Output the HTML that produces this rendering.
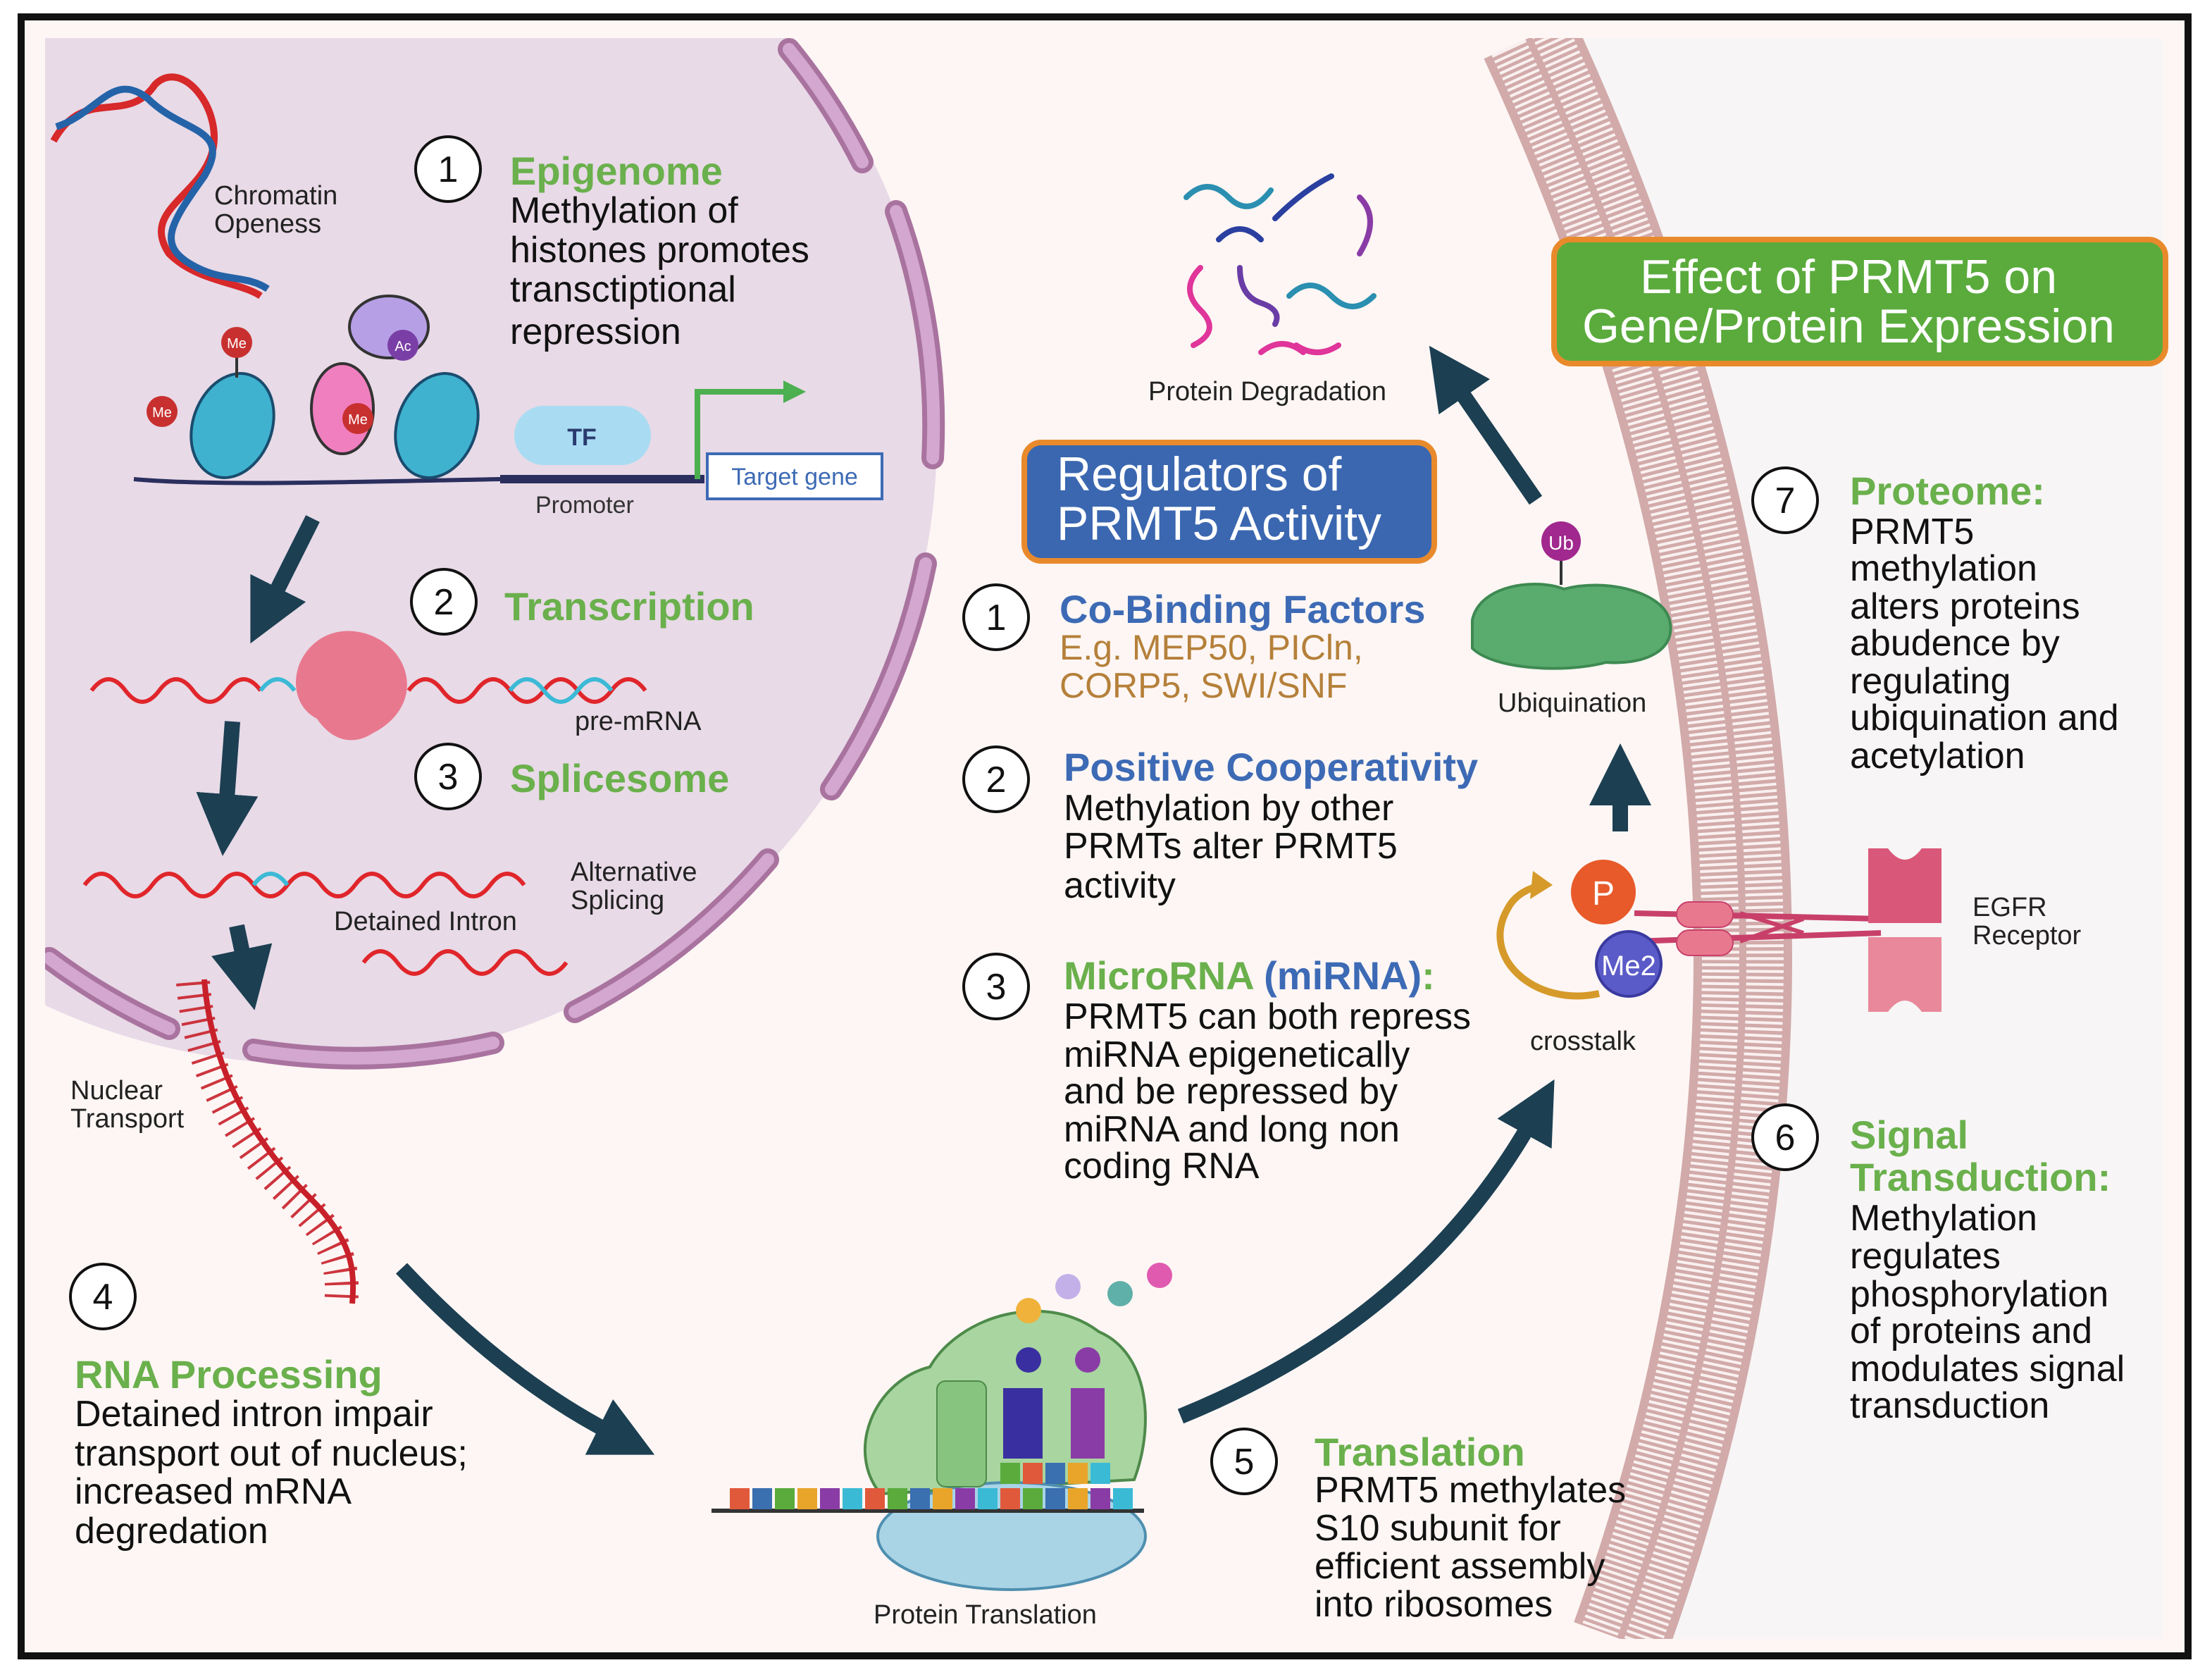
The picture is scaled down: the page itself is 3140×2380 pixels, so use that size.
<!DOCTYPE html>
<html><head><meta charset="utf-8"><style>
html,body{margin:0;padding:0;background:#fff;}
svg{display:block;}
text{font-family:"Liberation Sans",sans-serif;}
</style></head><body>
<svg width="3140" height="2380" viewBox="0 0 1570 1190" xmlns="http://www.w3.org/2000/svg">
<defs>
<marker id="ah" markerWidth="4" markerHeight="4" refX="1.5" refY="2" orient="auto" markerUnits="strokeWidth"><path d="M0,0 L4,2 L0,4 z" fill="#1c3f52"/></marker>
<clipPath id="inner"><rect x="32" y="27" width="1503" height="1136"/></clipPath>
</defs>
<rect x="0" y="0" width="1570" height="1190" fill="#fff"/>
<rect x="15" y="12" width="1538" height="1163" fill="#fdf6f4" stroke="#111" stroke-width="5"/>
<g clip-path="url(#inner)">
<path d="M1085,27 Q1352,605 1150,1163 L1540,1163 L1540,27 Z" fill="#f7f5f6"/>
<circle cx="220" cy="310" r="445" fill="#e8dae7"/>
<g fill="none" stroke="#a9739f" stroke-width="16" stroke-linecap="round">
<path d="M560,35 A445,445 0 0 1 612,115"/>
<path d="M636,150 A445,445 0 0 1 662,325"/>
<path d="M657,400 A445,445 0 0 1 590,560"/>
<path d="M545,610 A445,445 0 0 1 408,718"/>
<path d="M350,740 A445,445 0 0 1 180,745"/>
<path d="M120,730 A445,445 0 0 1 35,680"/>
</g>
<g fill="none" stroke="#d3a7cf" stroke-width="9" stroke-linecap="round">
<path d="M560,35 A445,445 0 0 1 612,115"/>
<path d="M636,150 A445,445 0 0 1 662,325"/>
<path d="M657,400 A445,445 0 0 1 590,560"/>
<path d="M545,610 A445,445 0 0 1 408,718"/>
<path d="M350,740 A445,445 0 0 1 180,745"/>
<path d="M120,730 A445,445 0 0 1 35,680"/>
</g>
<path d="M1085,27 Q1352,605 1150,1163" fill="none" stroke="#d2aaaa" stroke-width="70"/>
<path d="M1085,27 Q1352,605 1150,1163" fill="none" stroke="#faf0f0" stroke-width="58" stroke-dasharray="2 2.5"/>
<path d="M1085,27 Q1352,605 1150,1163" fill="none" stroke="#d2aaaa" stroke-width="5"/>
</g>
<path d="M38,100 C60,60 90,90 110,60 C130,40 160,80 150,110 C140,140 100,150 120,180 C140,200 170,200 185,210" fill="none" stroke="#d7282a" stroke-width="5"/>
<path d="M40,90 C70,80 80,50 105,70 C130,95 165,90 145,125 C120,160 110,175 140,190 C160,200 175,195 190,205" fill="none" stroke="#2563a8" stroke-width="5"/>
<text x="152" y="145" font-size="19" fill="#222">Chromatin</text>
<text x="152" y="165" font-size="19" fill="#222">Openess</text>
<path d="M95,340 C150,345 250,342 355,340 L500,340" fill="none" stroke="#2a2f5e" stroke-width="3"/>
<line x1="355" y1="340" x2="500" y2="340" stroke="#2a2f5e" stroke-width="6"/>
<ellipse cx="243" cy="290" rx="22" ry="32" fill="#f07fbf" stroke="#333" stroke-width="2"/>
<ellipse cx="276" cy="232" rx="28" ry="22" fill="#b79fe6" stroke="#333" stroke-width="2"/>
<ellipse cx="165" cy="302" rx="28" ry="38" fill="#3fb2cf" stroke="#1a4c6e" stroke-width="2" transform="rotate(20 165 302)"/>
<ellipse cx="310" cy="302" rx="28" ry="38" fill="#3fb2cf" stroke="#1a4c6e" stroke-width="2" transform="rotate(20 310 302)"/>
<line x1="168" y1="245" x2="168" y2="268" stroke="#333" stroke-width="2"/>
<circle cx="168" cy="243" r="11" fill="#c8302f"/><text x="168" y="247" font-size="10" fill="#fff" text-anchor="middle">Me</text>
<circle cx="115" cy="292" r="11" fill="#c8302f"/><text x="115" y="296" font-size="10" fill="#fff" text-anchor="middle">Me</text>
<circle cx="254" cy="297" r="11" fill="#c8302f"/><text x="254" y="301" font-size="10" fill="#fff" text-anchor="middle">Me</text>
<circle cx="286" cy="245" r="11" fill="#7a3fa6"/><text x="286" y="249" font-size="10" fill="#fff" text-anchor="middle">Ac</text>
<rect x="365" y="288" width="97" height="42" rx="21" fill="#a9dcf3"/>
<text x="413" y="316" font-size="17" font-weight="bold" fill="#2a3a6e" text-anchor="middle">TF</text>
<text x="380" y="364" font-size="17" fill="#333">Promoter</text>
<path d="M495,340 L495,278 L560,278" fill="none" stroke="#4caf50" stroke-width="4"/>
<path d="M556,270 L572,278 L556,286 z" fill="#4caf50"/>
<rect x="502" y="322" width="124" height="32" fill="#fff" stroke="#3d6ab5" stroke-width="2"/>
<text x="564" y="344" font-size="17" fill="#3d6ab5" text-anchor="middle">Target gene</text>
<g fill="#fff" stroke="#111" stroke-width="2">
<circle cx="318" cy="120" r="23"/><circle cx="315" cy="427" r="23"/><circle cx="318" cy="551" r="23"/>
<circle cx="73" cy="920" r="23"/><circle cx="883" cy="1037" r="23"/><circle cx="707" cy="438" r="23"/>
<circle cx="707" cy="553" r="23"/><circle cx="707" cy="700" r="23"/><circle cx="1267" cy="355" r="23"/><circle cx="1267" cy="807" r="23"/>
</g>
<g font-size="26" fill="#111" text-anchor="middle">
<text x="318" y="129">1</text><text x="315" y="436">2</text><text x="318" y="560">3</text><text x="73" y="929">4</text>
<text x="883" y="1046">5</text><text x="707" y="447">1</text><text x="707" y="562">2</text><text x="707" y="709">3</text>
<text x="1267" y="364">7</text><text x="1267" y="816">6</text>
</g>
<text x="362" y="131" font-size="28" font-weight="bold" fill="#6ab04c">Epigenome</text>
<g font-size="26" fill="#111">
<text x="362" y="158">Methylation of</text><text x="362" y="186">histones promotes</text>
<text x="362" y="214">transctiptional</text><text x="362" y="244">repression</text>
</g>
<text x="358" y="440" font-size="28" font-weight="bold" fill="#6ab04c">Transcription</text>
<text x="362" y="562" font-size="28" font-weight="bold" fill="#6ab04c">Splicesome</text>
<path d="M65,490 q12,-16 24,0 t24,0 t24,0 t24,0 t24,0" fill="none" stroke="#e0262b" stroke-width="3"/>
<path d="M185,490 q12,-16 24,0" fill="none" stroke="#3bbad6" stroke-width="3"/>
<path d="M290,490 q12,-16 24,0 t24,0 t24,0 t24,0 t24,0 t24,0 t24,0" fill="none" stroke="#e0262b" stroke-width="3"/>
<path d="M362,490 q12,-16 24,0 t24,0 t24,0" fill="none" stroke="#3bbad6" stroke-width="3"/>
<path d="M225,455 C245,440 275,450 285,470 C295,490 285,510 265,520 C250,530 235,525 225,510 C205,500 205,470 225,455 z" fill="#e8788e"/>
<text x="408" y="518" font-size="19" fill="#222">pre-mRNA</text>
<path d="M60,628 q12,-16 24,0 t24,0 t24,0 t24,0 t24,0 t24,0 t24,0 t24,0 t24,0 t24,0 t24,0 t24,0 t24,0" fill="none" stroke="#e0262b" stroke-width="3"/>
<path d="M180,628 q12,-16 24,0" fill="none" stroke="#3bbad6" stroke-width="3"/>
<path d="M258,683 q12,-16 24,0 t24,0 t24,0 t24,0 t24,0 t24,0" fill="none" stroke="#e0262b" stroke-width="3"/>
<text x="405" y="625" font-size="19" fill="#222">Alternative</text>
<text x="405" y="645" font-size="19" fill="#222">Splicing</text>
<text x="237" y="660" font-size="19" fill="#222">Detained Intron</text>
<path d="M145,695 C150,760 180,810 220,850 C250,880 252,900 250,925" fill="none" stroke="#c8202a" stroke-width="4"/>
<path d="M145,695 C150,760 180,810 220,850 C250,880 252,900 250,925" fill="none" stroke="#c8202a" stroke-width="24" stroke-dasharray="2 7" transform="translate(-8,2)" opacity="0.9"/>
<text x="50" y="780" font-size="19" fill="#222">Nuclear</text>
<text x="50" y="800" font-size="19" fill="#222">Transport</text>
<g fill="none" stroke="#1c3f52" stroke-width="11" marker-end="url(#ah)">
<path d="M222,368 L190,432"/>
<path d="M165,512 L160,580"/>
<path d="M168,657 L175,690"/>
<path d="M285,900 Q360,980 440,1020"/>
<path d="M838,1005 Q1010,935 1090,790"/>
<path d="M1150,590 L1150,555"/>
<path d="M1090,355 L1030,268"/>
</g>
<text x="53" y="985" font-size="28" font-weight="bold" fill="#6ab04c">RNA Processing</text>
<g font-size="26" fill="#111">
<text x="53" y="1012">Detained intron impair</text><text x="53" y="1040">transport out of nucleus;</text>
<text x="53" y="1067">increased mRNA</text><text x="53" y="1095">degredation</text>
</g>
<path d="M625,1060 C600,1030 620,980 660,970 C680,935 740,915 780,945 C815,960 820,1010 805,1050 z" fill="#a8d5a0" stroke="#4e8a4a" stroke-width="2"/>
<ellipse cx="718" cy="1090" rx="95" ry="38" fill="#a9d4e6" stroke="#4f8fb0" stroke-width="2"/>
<rect x="665" y="980" width="35" height="75" rx="6" fill="#86c47f" stroke="#4e8a4a"/>
<rect x="712" y="985" width="28" height="50" fill="#3a2fa0"/>
<rect x="760" y="985" width="24" height="50" fill="#8a3ca6"/>
<circle cx="730" cy="965" r="9" fill="#3a2fa0"/><circle cx="772" cy="965" r="9" fill="#8a3ca6"/>
<circle cx="730" cy="930" r="9" fill="#f0b23a"/><circle cx="758" cy="913" r="9" fill="#c4b0e8"/>
<circle cx="795" cy="918" r="9" fill="#5fb0a8"/><circle cx="823" cy="905" r="9" fill="#e05ab0"/>
<line x1="505" y1="1072" x2="812" y2="1072" stroke="#333" stroke-width="3"/>
<g>
<rect x="518" y="1056" width="14" height="15" fill="#e0593a"/><rect x="534" y="1056" width="14" height="15" fill="#3a6fb0"/>
<rect x="550" y="1056" width="14" height="15" fill="#5aab3c"/><rect x="566" y="1056" width="14" height="15" fill="#e8a52a"/>
<rect x="582" y="1056" width="14" height="15" fill="#8a3ca6"/><rect x="598" y="1056" width="14" height="15" fill="#3bbad6"/>
<rect x="614" y="1056" width="14" height="15" fill="#e0593a"/><rect x="630" y="1056" width="14" height="15" fill="#5aab3c"/>
<rect x="646" y="1056" width="14" height="15" fill="#3a6fb0"/><rect x="662" y="1056" width="14" height="15" fill="#e8a52a"/>
<rect x="678" y="1056" width="14" height="15" fill="#8a3ca6"/><rect x="694" y="1056" width="14" height="15" fill="#3bbad6"/>
<rect x="710" y="1056" width="14" height="15" fill="#e0593a"/><rect x="726" y="1056" width="14" height="15" fill="#5aab3c"/>
<rect x="742" y="1056" width="14" height="15" fill="#3a6fb0"/><rect x="758" y="1056" width="14" height="15" fill="#e8a52a"/>
<rect x="774" y="1056" width="14" height="15" fill="#8a3ca6"/><rect x="790" y="1056" width="14" height="15" fill="#3bbad6"/>
<rect x="710" y="1038" width="14" height="15" fill="#5aab3c"/><rect x="726" y="1038" width="14" height="15" fill="#e0593a"/>
<rect x="742" y="1038" width="14" height="15" fill="#3a6fb0"/><rect x="758" y="1038" width="14" height="15" fill="#e8a52a"/>
<rect x="774" y="1038" width="14" height="15" fill="#3bbad6"/>
</g>
<text x="620" y="1152" font-size="19" fill="#222">Protein Translation</text>
<text x="933" y="1040" font-size="28" font-weight="bold" fill="#6ab04c">Translation</text>
<g font-size="26" fill="#111">
<text x="933" y="1066">PRMT5 methylates</text><text x="933" y="1093">S10 subunit for</text>
<text x="933" y="1120">efficient assembly</text><text x="933" y="1147">into ribosomes</text>
</g>
<g fill="none" stroke-width="4" stroke-linecap="round">
<path d="M842,140 q15,-15 30,0 t30,-5" stroke="#2a8fb0"/>
<path d="M865,170 q15,-15 30,0" stroke="#2a3fa0"/>
<path d="M905,155 q20,-20 40,-30" stroke="#2a3fa0"/>
<path d="M965,140 q15,15 0,40" stroke="#8a3ca6"/>
<path d="M852,190 q-15,15 0,30 t-5,25" stroke="#e0359a"/>
<path d="M880,190 q0,20 15,25 t10,15" stroke="#6a3ca6"/>
<path d="M915,210 q15,-15 30,0 t30,0" stroke="#2a8fb0"/>
<path d="M895,250 q15,-12 30,0" stroke="#e0359a"/>
<path d="M920,245 q15,10 30,0" stroke="#e0359a"/>
</g>
<text x="815" y="284" font-size="19" fill="#222">Protein Degradation</text>
<rect x="727" y="314" width="291" height="84" rx="12" fill="#3b67b0" stroke="#e88a2c" stroke-width="4"/>
<text x="750" y="348" font-size="34" fill="#fff">Regulators of</text>
<text x="750" y="383" font-size="34" fill="#fff">PRMT5 Activity</text>
<text x="752" y="442" font-size="28" font-weight="bold" fill="#3d6ab5">Co-Binding Factors</text>
<text x="752" y="468" font-size="25" fill="#b5803a">E.g. MEP50, PICln,</text>
<text x="752" y="495" font-size="25" fill="#b5803a">CORP5, SWI/SNF</text>
<text x="755" y="554" font-size="28" font-weight="bold" fill="#3d6ab5">Positive Cooperativity</text>
<g font-size="26" fill="#111">
<text x="755" y="582">Methylation by other</text><text x="755" y="609">PRMTs alter PRMT5</text><text x="755" y="637">activity</text>
</g>
<text x="755" y="702" font-size="28" font-weight="bold"><tspan fill="#6ab04c">MicroRNA </tspan><tspan fill="#3d6ab5">(miRNA)</tspan><tspan fill="#6ab04c">:</tspan></text>
<g font-size="26" fill="#111">
<text x="755" y="730">PRMT5 can both repress</text><text x="755" y="757">miRNA epigenetically</text>
<text x="755" y="783">and be repressed by</text><text x="755" y="810">miRNA and long non</text><text x="755" y="836">coding RNA</text>
</g>
<path d="M1045,440 C1050,415 1090,410 1110,418 C1140,410 1180,420 1185,440 C1190,460 1170,472 1140,470 C1110,478 1060,475 1045,460 z" fill="#5aab6e" stroke="#3e8a52" stroke-width="2"/>
<line x1="1108" y1="395" x2="1108" y2="415" stroke="#333" stroke-width="2"/>
<circle cx="1108" cy="384" r="14" fill="#a0288e"/><text x="1108" y="390" font-size="14" fill="#fff" text-anchor="middle">Ub</text>
<text x="1063" y="505" font-size="19" fill="#222">Ubiquination</text>
<rect x="1103" y="170" width="434" height="88" rx="12" fill="#5aab3c" stroke="#e88a2c" stroke-width="4"/>
<text x="1312" y="208" font-size="34" fill="#fff" text-anchor="middle">Effect of PRMT5 on</text>
<text x="1312" y="243" font-size="34" fill="#fff" text-anchor="middle">Gene/Protein Expression</text>
<text x="1313" y="358" font-size="28" font-weight="bold" fill="#6ab04c">Proteome:</text>
<g font-size="26" fill="#111">
<text x="1313" y="386">PRMT5</text><text x="1313" y="412">methylation</text><text x="1313" y="439">alters proteins</text>
<text x="1313" y="465">abudence by</text><text x="1313" y="492">regulating</text><text x="1313" y="518">ubiquination and</text><text x="1313" y="545">acetylation</text>
</g>
<path d="M1160,648 L1335,652 M1160,668 L1335,662" stroke="#c8406a" stroke-width="4"/>
<path d="M1235,648 L1280,662 M1235,668 L1280,652" stroke="#c8406a" stroke-width="3"/>
<rect x="1190" y="640" width="40" height="18" rx="9" fill="#e8788e" stroke="#c8406a"/>
<rect x="1190" y="660" width="40" height="18" rx="9" fill="#e8788e" stroke="#c8406a"/>
<path d="M1326,602 L1340,602 Q1352,618 1364,602 L1378,602 L1378,655 L1326,655 z" fill="#d9587a"/>
<path d="M1326,665 L1378,665 L1378,718 L1364,718 Q1352,702 1340,718 L1326,718 z" fill="#e8889a"/>
<circle cx="1138" cy="633" r="23" fill="#e85a2a"/><text x="1138" y="642" font-size="24" fill="#fff" text-anchor="middle">P</text>
<circle cx="1156" cy="684" r="23" fill="#5a5ac8" stroke="#3a3aa0" stroke-width="2"/><text x="1156" y="692" font-size="20" fill="#fff" text-anchor="middle">Me2</text>
<path d="M1135,705 C1090,715 1050,680 1070,645 C1075,635 1085,630 1095,628" fill="none" stroke="#d69a2a" stroke-width="5"/>
<path d="M1088,618 L1102,628 L1086,638 z" fill="#d69a2a"/>
<text x="1086" y="745" font-size="19" fill="#222">crosstalk</text>
<text x="1400" y="650" font-size="19" fill="#222">EGFR</text>
<text x="1400" y="670" font-size="19" fill="#222">Receptor</text>
<text x="1313" y="815" font-size="28" font-weight="bold" fill="#6ab04c">Signal</text>
<text x="1313" y="845" font-size="28" font-weight="bold" fill="#6ab04c">Transduction:</text>
<g font-size="26" fill="#111">
<text x="1313" y="873">Methylation</text><text x="1313" y="900">regulates</text><text x="1313" y="927">phosphorylation</text>
<text x="1313" y="953">of proteins and</text><text x="1313" y="980">modulates signal</text><text x="1313" y="1006">transduction</text>
</g>
</svg>
</body></html>
